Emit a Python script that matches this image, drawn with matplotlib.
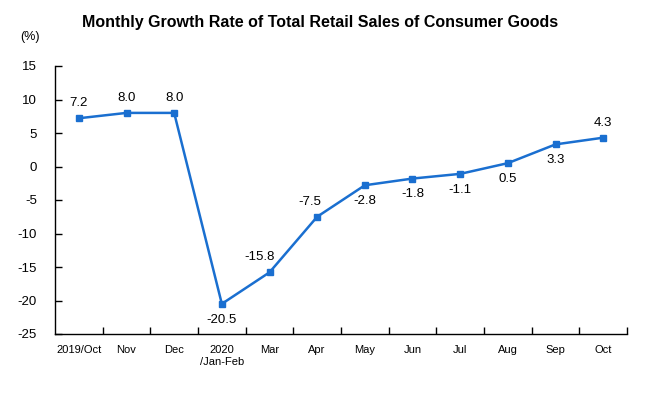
import matplotlib
matplotlib.use("Agg")
import matplotlib.pyplot as plt

categories = ["2019/Oct", "Nov", "Dec", "2020\n/Jan-Feb", "Mar", "Apr", "May",
              "Jun", "Jul", "Aug", "Sep", "Oct"]
values = [7.2, 8.0, 8.0, -20.5, -15.8, -7.5, -2.8, -1.8, -1.1, 0.5, 3.3, 4.3]
label_pos = ["above", "above", "above", "below", "above", "above", "below",
             "below", "below", "below", "below", "above"]
label_dx = [0, 0, 0, 0, -7, -5, 0, 0, 0, 0, 0, 0]
yticks = [15, 10, 5, 0, -5, -10, -15, -20, -25]

plt.rcParams['font.family'] = ['Liberation Sans', 'DejaVu Sans']
color = "#1a6fd0"

fig = plt.figure(figsize=(6.48, 3.96), dpi=100)
ax = fig.add_axes([55/648, 1-334/396, (627-55)/648, (334-66)/396])

x = list(range(len(values)))
ax.plot(x, values, color=color, lw=1.8, marker="s", ms=4.5, mec=color, mfc=color)

for xi, v, pos, dx in zip(x, values, label_pos, label_dx):
    if pos == "above":
        ax.annotate(f"{v:.1f}", (xi, v), xytext=(dx, 6.5), textcoords="offset points",
                    ha="center", va="bottom", fontsize=9.5)
    else:
        ax.annotate(f"{v:.1f}", (xi, v), xytext=(dx, -7), textcoords="offset points",
                    ha="center", va="top", fontsize=9.5)

ax.set_xlim(-0.5, len(values) - 0.5)
ax.set_ylim(-25, 15)
ax.set_yticks(yticks)
ax.set_yticklabels([str(t) for t in yticks], fontsize=9.5)
ax.set_xticks([i + 0.5 for i in range(len(values))])
ax.set_xticklabels([])
ax.set_xticks(x, minor=True)
ax.set_xticklabels(categories, minor=True, fontsize=8,
                   family=['Liberation Sans Narrow', 'Liberation Sans'])
ax.tick_params(axis="x", which="major", direction="in", length=5, width=1)
ax.tick_params(axis="x", which="minor", length=0, pad=8)
ax.tick_params(axis="y", direction="in", length=5, width=1, pad=13)

for s in ["top", "right"]:
    ax.spines[s].set_visible(False)
for s in ["left", "bottom"]:
    ax.spines[s].set_linewidth(1)

fig.text(320/648, 1-22/396, "Monthly Growth Rate of Total Retail Sales of Consumer Goods",
         ha="center", va="center", fontsize=11.5, fontweight="bold")
fig.text(30/648, 1-37/396, "(%)", ha="center", va="center", fontsize=9)

fig.savefig("out.png", dpi=100)
